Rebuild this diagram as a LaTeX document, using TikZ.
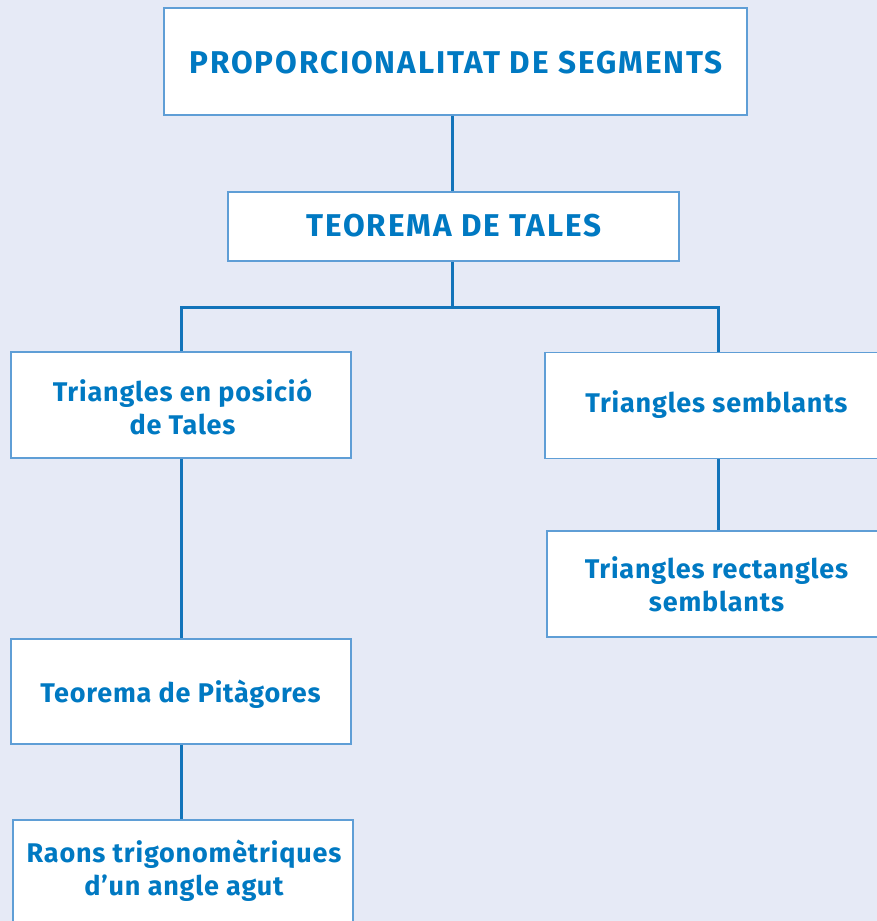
\documentclass[tikz,border=0pt]{standalone}
\usepackage{fontspec}
\setmainfont{Fira Sans}
\newfontfamily\boxfont[LetterSpace=3.0]{Fira Sans Bold}
\newfontfamily\capfont[LetterSpace=6.0]{Fira Sans Bold}
\definecolor{bgc}{RGB}{230,234,246}
\definecolor{bordc}{RGB}{95,158,214}
\definecolor{linec}{RGB}{18,116,186}
\definecolor{txtc}{RGB}{0,121,194}
\begin{document}
\begin{tikzpicture}[x=1pt,y=-1pt,
  box/.style={draw=bordc,line width=1.5pt,fill=white,inner sep=0pt},
  lbl/.style={text=txtc,anchor=base,font=\boxfont\fontsize{27}{33}\selectfont,inner sep=0pt},
  captxt/.style={text=txtc,anchor=base,font=\capfont\fontsize{31.5}{36}\selectfont,inner sep=0pt},
  conn/.style={draw=linec,line width=3pt}]
\useasboundingbox (0,0) rectangle (877,921);
\fill[bgc] (0,0) rectangle (877,921);
\begin{scope}
\clip (0,0) rectangle (877,921);
% boxes
\node[box,minimum width=583,minimum height=107] (a) at (455.5,61.5) {};
\node[box,minimum width=451,minimum height=69] (b) at (453.5,226.5) {};
\node[box,minimum width=340,minimum height=106] (c) at (181,405) {};
\node[box,minimum width=340,minimum height=106] (d) at (715,405.5) {};
\node[box,minimum width=340,minimum height=106] (e) at (717,584) {};
\node[box,minimum width=340,minimum height=105] (f) at (181,691.5) {};
\node[box,minimum width=340,minimum height=110,anchor=north] (g) at (183,819) {};
% texts
\node[captxt] (at) at (456,73) {PROPORCIONALITAT DE SEGMENTS};
\node[captxt] (bt) at (454,236.5) {TEOREMA DE TALES};
\node[lbl] (ct1) at (182.5,401) {Triangles en posició};
\node[lbl] (ct2) at (182.5,434) {de Tales};
\node[lbl] (dt) at (716.5,412) {Triangles semblants};
\node[lbl] (et1) at (716.5,578) {Triangles rectangles};
\node[lbl] (et2) at (716.5,611) {semblants};
\node[lbl] (ft) at (180.5,702) {Teorema de Pitàgores};
\node[lbl] (gt1) at (184,862) {Raons trigonomètriques};
\node[lbl] (gt2) at (184,895) {d’un angle agut};
% connectors
\coordinate (j) at (452,307);
\draw[conn] (a.south -| 452,0) -- (b.north -| 452,0);
\draw[conn] (b.south -| 452,0) -- (j);
\draw[conn] (c.north -| 181,0) |- (j) -| (d.north -| 718.5,0);
\draw[conn] (d.south -| 718.5,0) -- (e.north -| 718.5,0);
\draw[conn] (c.south) -- (f.north);
\draw[conn] (f.south) -- (g.north -| 181,0);
\end{scope}
\end{tikzpicture}
\end{document}
